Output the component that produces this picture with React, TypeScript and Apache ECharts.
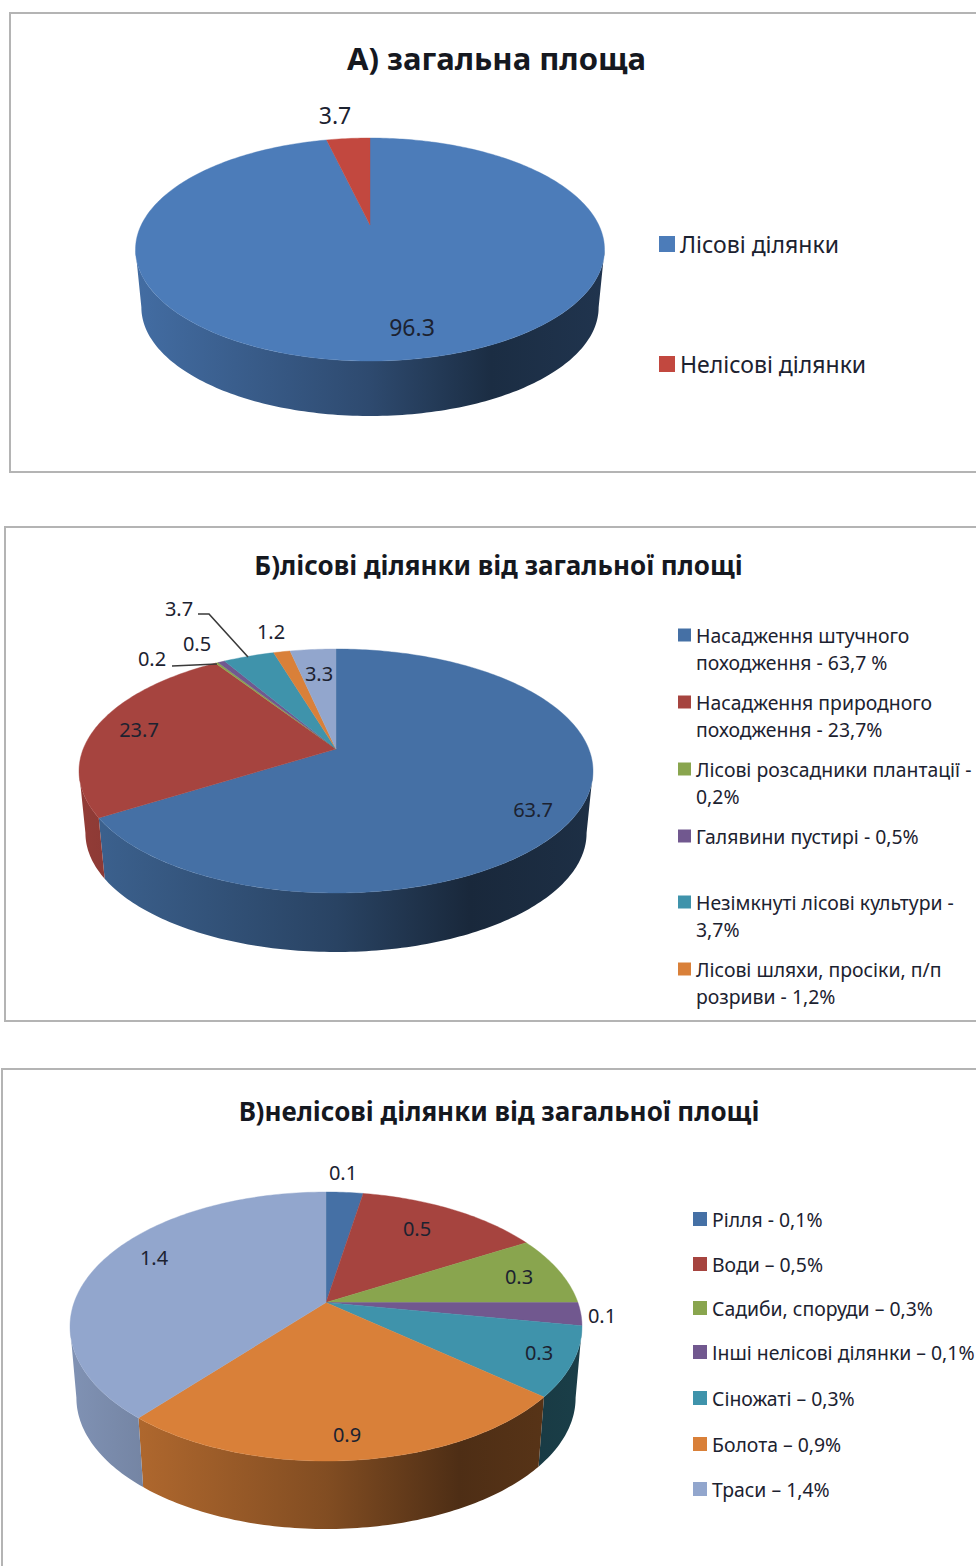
import React, { useEffect, useRef } from "react";
import * as echarts from "echarts";

// ---- data ----
const titleA = "А) загальна площа";
const namesA = ["Лісові ділянки", "Нелісові ділянки"];
const valuesA = [96.3, 3.7];

const titleB = "Б)лісові ділянки від загальної площі";
const namesB = [
  "Насадження штучного\nпоходження - 63,7 %",
  "Насадження природного\nпоходження - 23,7%",
  "Лісові розсадники плантації -\n0,2%",
  "Галявини пустирі - 0,5%",
  "Незімкнуті лісові культури -\n3,7%",
  "Лісові шляхи, просіки, п/п\nрозриви - 1,2%",
  "Інші",
];
const valuesB = [63.7, 23.7, 0.2, 0.5, 3.7, 1.2, 3.3];

const titleC = "В)нелісові ділянки від загальної площі";
const namesC = [
  "Рілля - 0,1%",
  "Води – 0,5%",
  "Садиби, споруди – 0,3%",
  "Інші нелісові ділянки – 0,1%",
  "Сіножаті – 0,3%",
  "Болота – 0,9%",
  "Траси – 1,4%",
];
const valuesC = [0.1, 0.5, 0.3, 0.1, 0.3, 0.9, 1.4];

// ---- layout and style ----
const FONT = "'Noto Sans', sans-serif";
const TEXT = "#1c2230";
const colorsA = ["#4c7cb9", "#c2483f"];
const colorsBC = ["#4570a5", "#a6443f", "#89a54e", "#71588f", "#3f93ab", "#d98039", "#92a6cd"];

type Pie = {
  title: string; names: string[]; values: number[]; colors: string[];
  cx: number; cy: number; left: number; right: number; top: number; bottom: number; wallBottom: number;
  labelAt: number[][]; labelSize: number; leaders: (number[][] | null)[];
  titleAt: number[]; titleSize: number;
  legendIconX: number; legendIconSize: number; legendFont: number; legendLine: number;
  legendY: (number | null)[];
  frame: number[];
};

const pies: Pie[] = [
  {
    title: titleA, names: namesA, values: valuesA, colors: colorsA,
    cx: 370, cy: 225, left: 135, right: 604, top: 138, bottom: 361, wallBottom: 416,
    labelAt: [[412, 327], [335, 115]], labelSize: 23, leaders: [null, null],
    titleAt: [496.5, 58], titleSize: 31,
    legendIconX: 659, legendIconSize: 16, legendFont: 23, legendLine: 28,
    legendY: [244, 364],
    frame: [10, 13, 1000, 459],
  },
  {
    title: titleB, names: namesB, values: valuesB, colors: colorsBC,
    cx: 336, cy: 749, left: 79, right: 593, top: 649, bottom: 893, wallBottom: 952,
    labelAt: [[533, 809], [139, 729], [152, 658], [197, 643], [179, 608], [271, 631], [319, 673]], labelSize: 20,
    leaders: [null, null, [[172, 666], [217, 664]], null, [[198, 614], [209, 614], [248, 657]], null, null],
    titleAt: [498.5, 564.5], titleSize: 26,
    legendIconX: 678, legendIconSize: 13, legendFont: 19.4, legendLine: 27,
    legendY: [635, 702, 769, 836, 902, 969, null],
    frame: [5, 527, 1000, 494],
  },
  {
    title: titleC, names: namesC, values: valuesC, colors: colorsBC,
    cx: 326, cy: 1302.5, left: 70, right: 582, top: 1192, bottom: 1461, wallBottom: 1529,
    labelAt: [[343, 1172], [417, 1228], [519, 1276], [602, 1315], [539, 1352], [347, 1434], [154, 1257]], labelSize: 20,
    leaders: [null, null, null, null, null, null, null],
    titleAt: [499, 1110.5], titleSize: 26,
    legendIconX: 693, legendIconSize: 14, legendFont: 19.4, legendLine: 27,
    legendY: [1219, 1264, 1308, 1352, 1398, 1444, 1489],
    frame: [2, 1069, 1000, 600],
  },
];

const WALL_SCALE = 0.975;

function shade(hex: string, f: number) {
  const n = parseInt(hex.slice(1), 16);
  const c = [(n >> 16) & 255, (n >> 8) & 255, n & 255].map((v) => Math.round(v * f));
  return `rgb(${c[0]},${c[1]},${c[2]})`;
}

// Perspective projection of a tilted disc: the pie's centre is not the ellipse's centre.
function projector(p: Pie) {
  const up = p.cy - p.top;
  const down = p.bottom - p.cy;
  const k = (down - up) / (down + up);
  const B = up * (1 + k);
  const A = ((p.right - p.left) / 2) * Math.sqrt(1 - k * k);
  const rim = (deg: number) => {
    const t = (deg * Math.PI) / 180;
    const w = 1 + k * Math.cos(t);
    return [p.cx + (A * Math.sin(t)) / w, p.cy - (B * Math.cos(t)) / w];
  };
  const depth = p.wallBottom - p.cy - WALL_SCALE * down;
  const low = (pt: number[]) => [p.cx + WALL_SCALE * (pt[0] - p.cx), p.cy + depth + WALL_SCALE * (pt[1] - p.cy)];
  const edge = (Math.acos(-k) * 180) / Math.PI;
  return { rim, low, edge };
}

function arc(from: number, to: number, fn: (d: number) => number[]) {
  const pts: number[][] = [];
  const n = Math.max(1, Math.ceil(to - from));
  for (let i = 0; i <= n; i++) pts.push(fn(from + ((to - from) * i) / n));
  return pts;
}

function makeRenderItem(p: Pie, index: number) {
  const total = p.values.reduce((a, b) => a + b, 0);
  const before = p.values.slice(0, index).reduce((a, b) => a + b, 0);
  const { rim, low, edge } = projector(p);
  const color = p.colors[index];
  return (_params: any, api: any) => {
    const value = api.value(0);
    const a0 = (before / total) * 360;
    const a1 = ((before + value) / total) * 360;
    const children: any[] = [];
    const v0 = Math.max(a0, edge);
    const v1 = Math.min(a1, 360 - edge);
    if (v1 > v0) {
      const topPts = arc(v0, v1, rim);
      const lowPts = topPts.map(low).reverse();
      children.push({
        type: "polygon",
        shape: { points: topPts.concat(lowPts) },
        style: {
          fill: {
            type: "linear", global: true, x: p.left, y: 0, x2: p.right, y2: 0,
            colorStops: [
              { offset: 0, color: shade(color, 0.88) },
              { offset: 0.5, color: shade(color, 0.6) },
              { offset: 0.76, color: shade(color, 0.36) },
              { offset: 1, color: shade(color, 0.42) },
            ],
          },
        },
      });
    }
    children.push({
      type: "polygon",
      shape: { points: [[p.cx, p.cy]].concat(arc(a0, a1, rim)) },
      style: { fill: color, stroke: color, lineWidth: 0.4 },
    });
    const leader = p.leaders[index];
    if (leader) {
      children.push({
        type: "polyline",
        shape: { points: leader },
        style: { fill: "none", stroke: "#3a3a3a", lineWidth: 1.6 },
      });
    }
    const at = p.labelAt[index];
    children.push({
      type: "text",
      z2: 50,
      style: {
        text: String(value), x: at[0], y: at[1], align: "center", verticalAlign: "middle",
        fontSize: p.labelSize, fontFamily: FONT, fill: TEXT,
      },
    });
    return { type: "group", children };
  };
}

export default function App() {
  const ref = useRef<HTMLDivElement>(null);
  useEffect(() => {
    document.body.style.margin = "0";
    const chart = echarts.init(ref.current!, null, { renderer: "svg" });
    const series: any[] = [];
    const legend: any[] = [];
    const title: any[] = [];
    const graphic: any[] = [];
    pies.forEach((p) => {
      graphic.push({
        type: "rect", z: -1,
        shape: { x: p.frame[0], y: p.frame[1], width: p.frame[2], height: p.frame[3] },
        style: { fill: "#ffffff", stroke: "#b4b4b4", lineWidth: 2 },
      });
      title.push({
        text: p.title, left: p.titleAt[0], top: p.titleAt[1] - 20, textAlign: "center", padding: 0,
        textStyle: { fontFamily: FONT, fontSize: p.titleSize, fontWeight: "bold", color: "#15181f", lineHeight: 40 },
      });
      p.values.forEach((v, i) => {
        series.push({
          type: "custom", name: p.names[i], coordinateSystem: "none", silent: true,
          itemStyle: { color: p.colors[i] }, data: [[v]], renderItem: makeRenderItem(p, i),
        });
        const y = p.legendY[i];
        if (y == null) return;
        const twoLines = p.names[i].includes("\n");
        legend.push({
          left: p.legendIconX, top: y - (twoLines ? 1.5 * p.legendLine : p.legendLine / 2), padding: 0,
          orient: "vertical", selectedMode: false,
          itemWidth: p.legendIconSize, itemHeight: p.legendIconSize,
          // a blank first line keeps the icon level with the first line of a two-line name
          formatter: (name: string) => (twoLines ? "\n" + name : name),
          data: [{ name: p.names[i], icon: "rect", itemStyle: { color: p.colors[i] } }],
          textStyle: { fontFamily: FONT, fontSize: p.legendFont, color: TEXT, lineHeight: p.legendLine },
        });
      });
    });
    chart.setOption({ animation: false, backgroundColor: "#ffffff", title, legend, graphic, series });
    return () => chart.dispose();
  }, []);
  return <div ref={ref} style={{ width: 976, height: 1566 }} />;
}
